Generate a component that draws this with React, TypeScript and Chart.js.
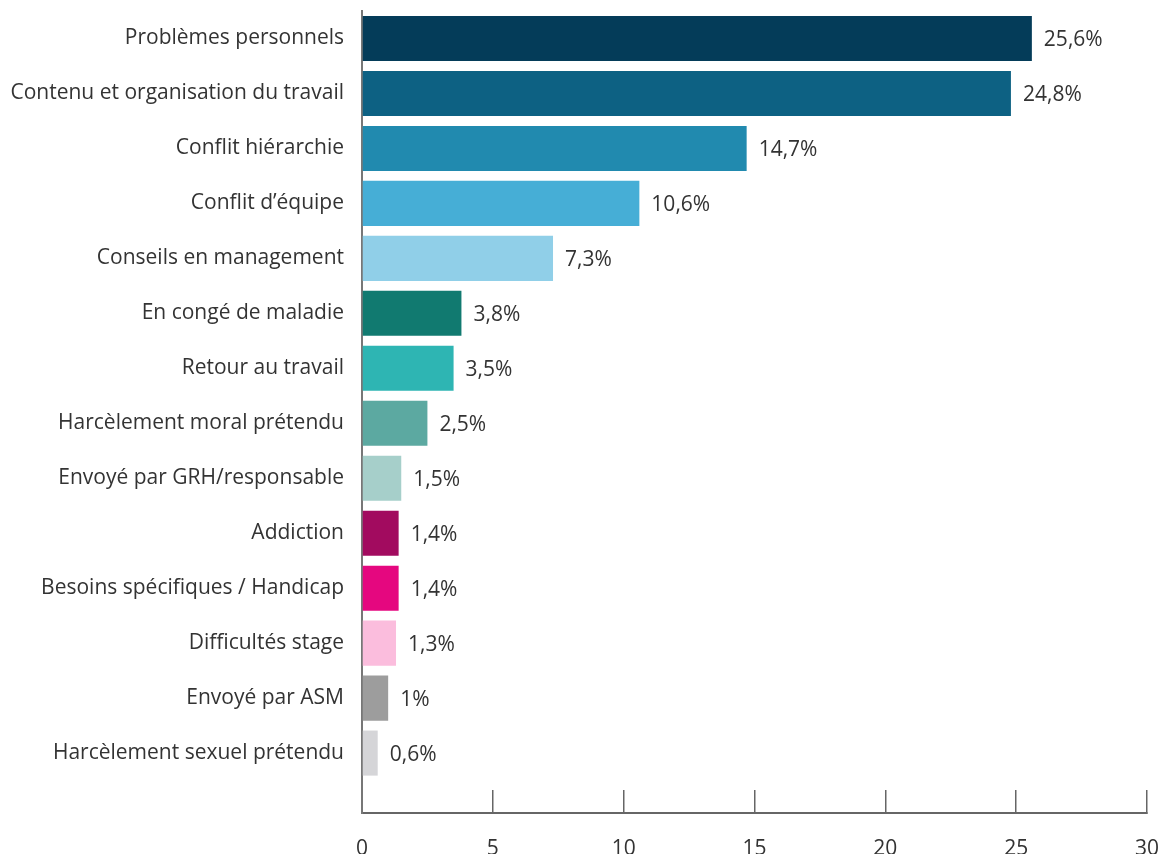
import React, { useEffect, useRef } from 'react';
import { Chart, registerables } from 'chart.js';

Chart.register(...registerables);

const categories = [
  'Problèmes personnels',
  'Contenu et organisation du travail',
  'Conflit hiérarchie',
  'Conflit d’équipe',
  'Conseils en management',
  'En congé de maladie',
  'Retour au travail',
  'Harcèlement moral prétendu',
  'Envoyé par GRH/responsable',
  'Addiction',
  'Besoins spécifiques / Handicap',
  'Difficultés stage',
  'Envoyé par ASM',
  'Harcèlement sexuel prétendu',
];

const values = [25.6, 24.8, 14.7, 10.6, 7.3, 3.8, 3.5, 2.5, 1.5, 1.4, 1.4, 1.3, 1, 0.6];

const barColors = [
  '#043c59',
  '#0d6183',
  '#218aaf',
  '#46aed6',
  '#90cfe8',
  '#117a70',
  '#2eb5b3',
  '#5ca9a1',
  '#a6cfca',
  '#a20b5f',
  '#e5077f',
  '#fbbddd',
  '#9d9d9d',
  '#d5d5d8',
];

const xMin = 0;
const xMax = 30;
const xStep = 5;

const FONT = '"Open Sans", Lato, sans-serif';
const CANVAS_W = 1164;
const CANVAS_H = 880;
const AXIS_Y = 813;

export default function App() {
  const ref = useRef<HTMLCanvasElement>(null);

  useEffect(() => {
    const valueLabels = {
      id: 'valueLabels',
      afterDatasetsDraw(chart: any) {
        const ctx = chart.ctx;
        const meta = chart.getDatasetMeta(0);
        ctx.save();
        ctx.font = `21px ${FONT}`;
        ctx.fillStyle = '#333333';
        ctx.textAlign = 'left';
        ctx.textBaseline = 'middle';
        meta.data.forEach((el: any, i: number) => {
          const p = el.getProps(['x', 'y'], true);
          ctx.fillText(String(values[i]).replace('.', ',') + '%', p.x + 12, p.y + 2);
        });
        ctx.restore();
      },
    };

    const chart = new Chart(ref.current as HTMLCanvasElement, {
      type: 'bar',
      data: {
        datasets: [
          {
            data: values.map((v, i) => ({ x: v, y: i })),
            backgroundColor: barColors,
            barPercentage: 0.82,
            categoryPercentage: 1,
          },
        ],
      },
      options: {
        indexAxis: 'y',
        responsive: false,
        animation: false,
        layout: { padding: { top: 11, right: 17, left: 0, bottom: 0 } },
        plugins: { legend: { display: false }, tooltip: { enabled: false } },
        scales: {
          x: {
            type: 'linear',
            position: 'bottom',
            min: xMin,
            max: xMax,
            grid: {
              display: true,
              drawOnChartArea: false,
              drawTicks: true,
              tickLength: -23,
              color: '#666666',
              lineWidth: 1.5,
            },
            border: { display: true, color: '#666666', width: 2 },
            ticks: {
              stepSize: xStep,
              padding: 46,
              color: '#333333',
              font: { family: FONT, size: 21 },
            },
            afterFit: (s: any) => {
              s.height = CANVAS_H - AXIS_Y;
              s.paddingLeft = 0;
              s.paddingRight = 0;
            },
          },
          y: {
            type: 'linear',
            reverse: true,
            offset: false,
            min: -0.5,
            max: 14.09,
            afterBuildTicks: (s: any) => {
              s.ticks = categories.map((_, i) => ({ value: i }));
            },
            grid: { display: false, drawTicks: false, offset: false },
            border: { display: true, color: '#777777', width: 2 },
            ticks: {
              autoSkip: false,
              padding: 18,
              color: '#333333',
              font: { family: FONT, size: 21 },
              callback: (v: any) => categories[v as number] ?? '',
            },
            afterFit: (s: any) => {
              s.width = 362;
              s.paddingTop = 0;
              s.paddingBottom = 0;
            },
          },
        },
      },
      plugins: [valueLabels],
    } as any);

    return () => chart.destroy();
  }, []);

  return (
    <div
      style={{
        position: 'fixed',
        top: 0,
        left: 0,
        width: CANVAS_W,
        height: 854,
        overflow: 'hidden',
        background: '#ffffff',
      }}
    >
      <canvas ref={ref} width={CANVAS_W} height={CANVAS_H} style={{ display: 'block' }} />
    </div>
  );
}
